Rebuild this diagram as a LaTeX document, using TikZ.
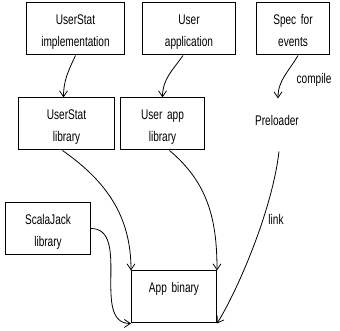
\documentclass[tikz,border=0pt]{standalone}
\usepackage{fontspec}
\setmainfont{Liberation Sans}[FakeStretch=0.72]
\usetikzlibrary{arrows.meta}

\begin{document}
\begin{tikzpicture}[x=1pt,y=1pt,
    every node/.style={font=\fontsize{14}{22}\selectfont},
    box/.style={draw,line width=1pt,align=center,text width=#1,inner xsep=0pt,inner ysep=4pt,text height=18pt,text depth=26pt},
    link/.style={line width=0.8pt,-{Straight Barb[length=6pt,width=8pt]}}]
  \useasboundingbox (0,0) rectangle (340,331);
  \node[box=98pt] (impl) at (75.5,302) {UserStat\\implementation};
  \node[box=93pt] (app) at (189,302) {User\\application};
  \node[box=73pt] (spec) at (293,302) {Spec for\\events};
  \node[box=96pt] (ulib) at (66.5,207) {UserStat\\library};
  \node[box=84pt] (alib) at (162.5,207) {User app\\library};
  \node[box=50pt,draw=none,text height=23pt,text depth=21pt] (pre) at (277,206) {Preloader};
  \node[box=85pt] (sj) at (48,102.5) {ScalaJack\\library};
  \node[box=85pt] (bin) at (174,34) {App binary};
  \node[anchor=base] (comp) at (314,247) {compile};
  \node[anchor=base] (lnk) at (276,106) {link};
  \draw[link] (impl.south) to[out=-115,in=90] ([xshift=-3pt]ulib.north);
  \draw[link] ([xshift=-6pt]app.south) to[out=-125,in=90] (alib.north);
  \draw[link] ([xshift=5pt]spec.south) to[out=-120,in=90] ([xshift=1pt]pre.north);
  \draw[link] ([xshift=-4pt]ulib.south) to[out=-35,in=90] (bin.north west);
  \draw[link] ([xshift=7pt]alib.south) to[out=-40,in=90] (bin.north east);
  \draw[link] ([xshift=2pt]pre.south) .. controls +(-7,-60) and +(20,32) .. (bin.south east);
  \draw[link] (sj.east) to[out=0,in=180] (bin.south west);
\end{tikzpicture}
\end{document}
